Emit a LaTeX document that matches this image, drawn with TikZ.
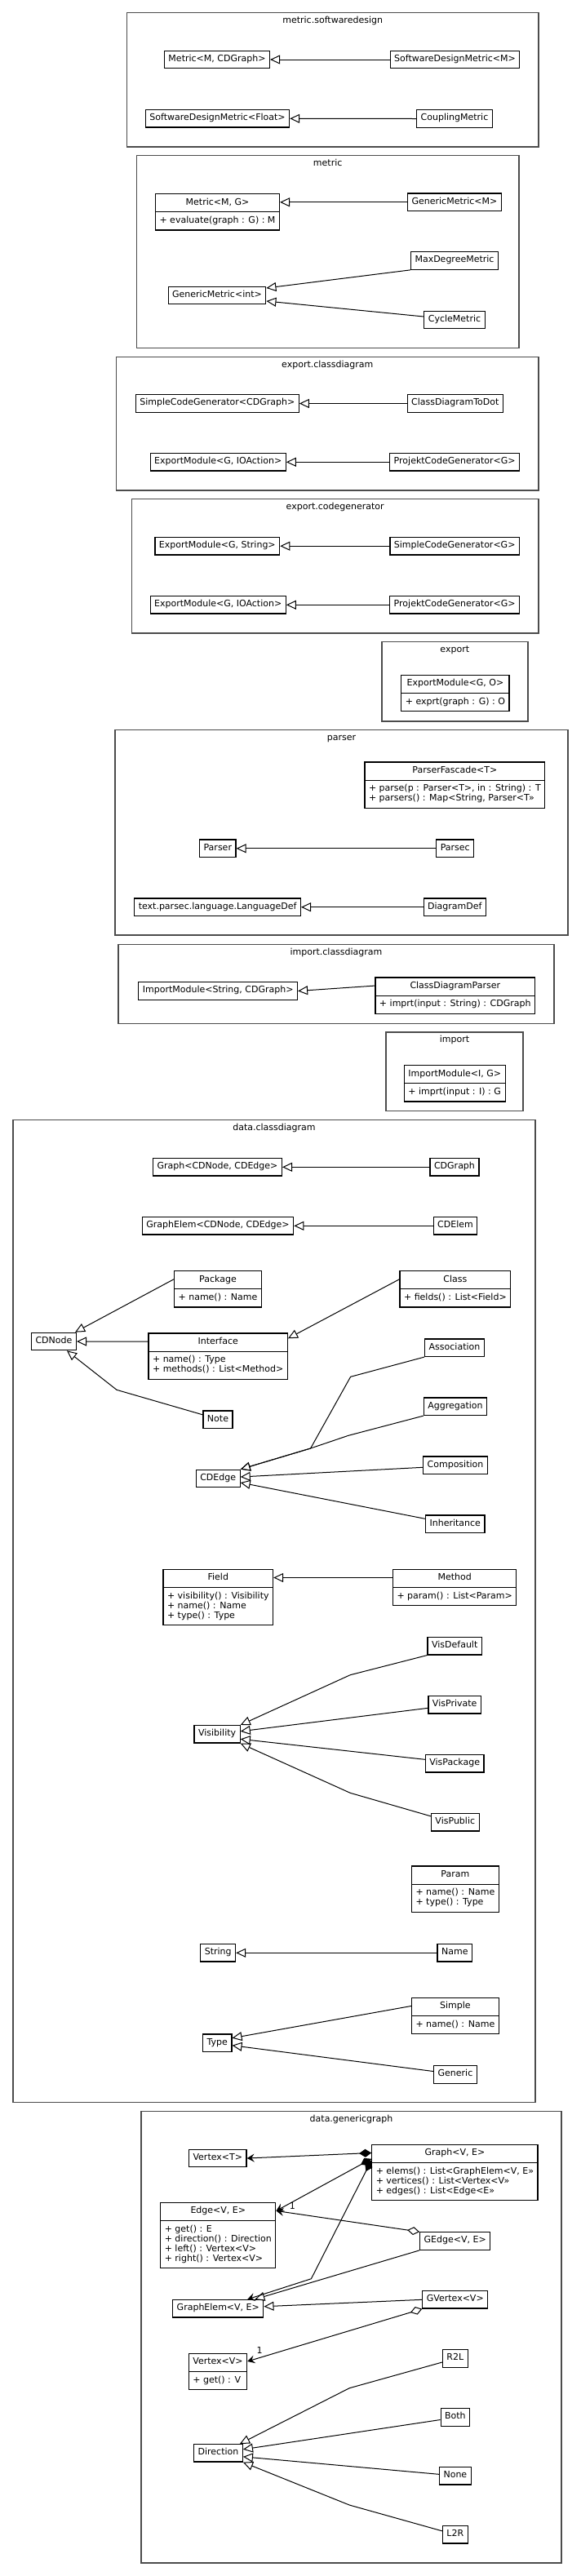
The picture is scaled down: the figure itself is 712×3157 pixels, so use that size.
\documentclass[tikz,border=0pt]{standalone}
\usepackage{fontspec}
\setmainfont{DejaVu Sans}
\usetikzlibrary{arrows.meta,shapes.multipart}

\begin{document}
\begin{tikzpicture}[x=1pt, y=-1pt,
		font=\fontsize{11}{12}\selectfont,
		pkg/.style={draw=black!70, line width=1.4pt},
		pkgname/.style={inner sep=0pt, text height=8.4pt, text depth=3.6pt},
		cls/.style={draw, line width=1.2pt, inner xsep=5pt, inner ysep=4.5pt, minimum height=21.5pt, text height=8.4pt, text depth=3.6pt},
		clsbox/.style={draw, line width=1.2pt, inner xsep=5pt, inner ysep=4.5pt, anchor=north, rectangle split, rectangle split parts=2, rectangle split part align={center,left}, align=left},
		inh/.style={line width=1pt, -{Triangle[open, length=12pt, width=11pt]}},
		comp/.style={line width=1pt, {Diamond[length=15pt, width=10pt]}-{Stealth[length=9pt, width=10pt, inset=3.5pt]}},
		aggr/.style={line width=1pt, {Diamond[open, length=15pt, width=10pt]}-{Stealth[length=9pt, width=10pt, inset=3.5pt]}}
	]
		\fill[white] (0,0) rectangle (712,3157);
		\useasboundingbox (0,0) rectangle (712,3157);

		\draw[pkg] (155.5,15.7) rectangle (660,180);
		\node[pkgname] (tSoftDesign) at (407.7,26.2) {metric.softwaredesign};
		\node[cls] (sdMetric) at (266,73) {Metric<M, CDGraph>};
		\node[cls] (sdMetricM) at (557.5,73) {SoftwareDesignMetric<M>};
		\node[cls] (sdMetricFloat) at (266.5,145.3) {SoftwareDesignMetric<Float>};
		\node[cls] (sdCoupling) at (557,145.5) {CouplingMetric};
		\draw[inh] (sdMetricM.west) -- (sdMetric.east);
		\draw[inh] (sdCoupling.west) -- (sdMetricFloat.east);

		\draw[pkg] (167.5,190.7) rectangle (636,426.7);
		\node[pkgname] (tMetric) at (401.7,201.2) {metric};
		\node[clsbox] (mMetric) at (266.5,237) {\strut Metric<M, G>\nodepart{two}\strut + evaluate(graph : G) : M\strut};
		\node[cls] (mGenericM) at (557,247.8) {GenericMetric<M>};
		\node[cls] (mMaxDegree) at (557,319.5) {MaxDegreeMetric};
		\node[cls] (mGenericInt) at (266,362) {GenericMetric<int>};
		\node[cls] (mCycle) at (557,392) {CycleMetric};
		\draw[inh] (mGenericM.west) -- (mMetric.east |- mGenericM.west);
		\draw[inh] (mMaxDegree.south west) -- ([yshift=9pt]mGenericInt.east);
		\draw[inh] ([yshift=4pt]mCycle.west) -- ([yshift=-7pt]mGenericInt.east);

		\draw[pkg] (142.5,437.3) rectangle (660,601);
		\node[pkgname] (tExportCD) at (401.3,447.8) {export.classdiagram};
		\node[cls] (ecSimple) at (266.3,494.5) {SimpleCodeGenerator<CDGraph>};
		\node[cls] (ecToDot) at (557.8,494.5) {ClassDiagramToDot};
		\node[cls] (ecExport) at (267.2,566.3) {ExportModule<G, IOAction>};
		\node[cls] (ecProjekt) at (557.2,566.3) {ProjektCodeGenerator<G>};
		\draw[inh] (ecToDot.west) -- (ecSimple.east);
		\draw[inh] (ecProjekt.west) -- (ecExport.east);

		\draw[pkg] (161.4,611.7) rectangle (660,776);
		\node[pkgname] (tExportCG) at (410.7,622.2) {export.codegenerator};
		\node[cls] (cgExport) at (266.3,669.2) {ExportModule<G, String>};
		\node[cls] (cgSimple) at (557.2,669.2) {SimpleCodeGenerator<G>};
		\node[cls] (cgExportIO) at (267.2,741.3) {ExportModule<G, IOAction>};
		\node[cls] (cgProjekt) at (557.2,741.3) {ProjektCodeGenerator<G>};
		\draw[inh] (cgSimple.west) -- (cgExport.east);
		\draw[inh] (cgProjekt.west) -- (cgExportIO.east);

		\draw[pkg] (467.8,786.7) rectangle (646.8,884);
		\node[pkgname] (tExport) at (557.3,797.2) {export};
		\node[clsbox] (exModule) at (557.9,826.7) {\strut ExportModule<G, O>\nodepart{two}\strut + exprt(graph : G) : O\strut};

		\draw[pkg] (141,894.7) rectangle (696,1146);
		\node[pkgname] (tParser) at (418.5,905.2) {parser};
		\node[clsbox] (pFascade) at (557.4,933.3) {\strut ParserFascade<T>\nodepart{two}\strut + parse(p : Parser<T>, in : String) : T\\+ parsers() : Map<String, Parser<T>>\strut};
		\node[cls] (pParser) at (266.8,1039.8) {Parser};
		\node[cls] (pParsec) at (557.8,1039.8) {Parsec};
		\node[cls] (pLangDef) at (266.6,1111.7) {text.parsec.language.LanguageDef};
		\node[cls] (pDiagramDef) at (557.3,1111.7) {DiagramDef};
		\draw[inh] (pParsec.west) -- (pParser.east);
		\draw[inh] (pDiagramDef.west) -- (pLangDef.east);

		\draw[pkg] (145,1157.3) rectangle (679,1254.3);
		\node[pkgname] (tImportCD) at (412,1167.8) {import.classdiagram};
		\node[cls] (icModule) at (267.2,1214.5) {ImportModule<String, CDGraph>};
		\node[clsbox] (icParser) at (557.8,1197.3) {\strut ClassDiagramParser\nodepart{two}\strut + imprt(input : String) : CDGraph\strut};
		\draw[inh] ([yshift=-10.75pt]icParser.north west) -- (icModule.east);

		\draw[pkg] (473,1265) rectangle (641,1361.7);
		\node[pkgname] (tImport) at (557,1275.5) {import};
		\node[clsbox] (imModule) at (557.3,1305) {\strut ImportModule<I, G>\nodepart{two}\strut + imprt(input : I) : G\strut};

		\draw[pkg] (16,1372.7) rectangle (656,2576.7);
		\node[pkgname] (tDataCD) at (336,1383.2) {data.classdiagram};
		\node[cls] (dGraph) at (266.5,1430.3) {Graph<CDNode, CDEdge>};
		\node[cls] (dCDGraph) at (557,1430.3) {CDGraph};
		\node[cls] (dGraphElem) at (267,1502.3) {GraphElem<CDNode, CDEdge>};
		\node[cls] (dCDElem) at (558,1502.3) {CDElem};
		\node[clsbox] (dPackage) at (267,1557) {\strut Package\nodepart{two}\strut + name() : Name\strut};
		\node[clsbox] (dClass) at (557.9,1557) {\strut Class\nodepart{two}\strut + fields() : List<Field>\strut};
		\node[cls] (dCDNode) at (66,1644) {CDNode};
		\node[clsbox] (dInterface) at (267.2,1633.3) {\strut Interface\nodepart{two}\strut + name() : Type\\+ methods() : List<Method>\strut};
		\node[cls] (dAssoc) at (557,1651.7) {Association};
		\node[cls] (dNote) at (267,1739.8) {Note};
		\node[cls] (dAggr) at (558,1723.8) {Aggregation};
		\node[cls] (dCDEdge) at (267.2,1812) {CDEdge};
		\node[cls] (dComp) at (558,1795.8) {Composition};
		\node[cls] (dInher) at (557.8,1867.8) {Inheritance};
		\node[clsbox] (dField) at (267.3,1922.7) {\strut Field\nodepart{two}\strut + visibility() : Visibility\\+ name() : Name\\+ type() : Type\strut};
		\node[clsbox] (dMethod) at (557.2,1922.7) {\strut Method\nodepart{two}\strut + param() : List<Param>\strut};
		\node[cls] (dVisDefault) at (557.2,2017.2) {VisDefault};
		\node[cls] (dVisPrivate) at (557.2,2089.3) {VisPrivate};
		\node[cls] (dVisibility) at (266.1,2125.3) {Visibility};
		\node[cls] (dVisPackage) at (557.2,2161.3) {VisPackage};
		\node[cls] (dVisPublic) at (557.8,2233.3) {VisPublic};
		\node[clsbox] (dParam) at (557.9,2286.3) {\strut Param\nodepart{two}\strut + name() : Name\\+ type() : Type\strut};
		\node[cls] (dString) at (267.2,2393.3) {String};
		\node[cls] (dName) at (557.3,2393.3) {Name};
		\node[clsbox] (dSimple) at (557.9,2447.7) {\strut Simple\nodepart{two}\strut + name() : Name\strut};
		\node[cls] (dType) at (266.3,2503.7) {Type};
		\node[cls] (dGeneric) at (558,2542.5) {Generic};
		\draw[inh] (dCDGraph.west) -- (dGraph.east);
		\draw[inh] (dCDElem.west) -- (dGraphElem.east);
		\draw[inh] ([yshift=-10.75pt]dPackage.north west) -- ([xshift=-2pt]dCDNode.north east);
		\draw[inh] ([yshift=-10.75pt]dInterface.north west) -- (dCDNode.east);
		\draw[inh] ([yshift=-10.75pt]dClass.north west) -- ([yshift=-7pt]dInterface.north east);
		\draw[inh] ([yshift=6pt]dNote.west) -- (143,1703.3) -- ([xshift=16pt]dCDNode.south);
		\draw[inh] (dAssoc.south west) -- (429.6,1687.3) -- (380.6,1775) -- (dCDEdge.north east);
		\draw[inh] (dAggr.south west) -- (426.9,1759.3) -- (380.6,1775) -- (dCDEdge.north east);
		\draw[inh] ([yshift=-2.5pt]dComp.west) -- ([yshift=2pt]dCDEdge.east);
		\draw[inh] ([yshift=6.5pt]dInher.west) -- ([yshift=-5pt]dCDEdge.east);
		\draw[inh] ([yshift=-10.75pt]dMethod.north west) -- ([yshift=-10.75pt]dField.north east);
		\draw[inh] (dVisDefault.south west) -- (429.2,2052.7) -- (dVisibility.north east);
		\draw[inh] ([yshift=-4pt]dVisPrivate.west) -- ([yshift=3.5pt]dVisibility.east);
		\draw[inh] ([yshift=5pt]dVisPackage.west) -- ([yshift=-6pt]dVisibility.east);
		\draw[inh] ([yshift=7.5pt]dVisPublic.west) -- (429.2,2197.3) -- (dVisibility.south east);
		\draw[inh] (dName.west) -- (dString.east);
		\draw[inh] ([yshift=-10.75pt]dSimple.north west) -- ([yshift=6pt]dType.east);
		\draw[inh] ([yshift=4pt]dGeneric.west) -- ([yshift=-3pt]dType.east);

		\draw[pkg] (173,2587.3) rectangle (688,3141);
		\node[pkgname] (tDataGG) at (430.5,2597.8) {data.genericgraph};
		\node[cls] (gVertexT) at (266.8,2645) {Vertex<T>};
		\node[clsbox] (gGraph) at (557.4,2627.7) {\strut Graph<V, E>\nodepart{two}\strut + elems() : List<GraphElem<V, E>>\\+ vertices() : List<Vertex<V>>\\+ edges() : List<Edge<E>>\strut};
		\node[clsbox] (gEdge) at (267.3,2698.7) {\strut Edge<V, E>\nodepart{two}\strut + get() : E\\+ direction() : Direction\\+ left() : Vertex<V>\\+ right() : Vertex<V>\strut};
		\node[cls] (gGEdge) at (557.7,2746.5) {GEdge<V, E>};
		\node[cls] (gGraphElem) at (267.3,2829.2) {GraphElem<V, E>};
		\node[cls] (gGVertex) at (557.8,2818.3) {GVertex<V>};
		\node[clsbox] (gVertexV) at (267,2883.7) {\strut Vertex<V>\nodepart{two}\strut + get() : V\strut};
		\node[cls] (gR2L) at (557.8,2890.5) {R2L};
		\node[cls] (gBoth) at (557.9,2962.5) {Both};
		\node[cls] (gDirection) at (267.5,3006.3) {Direction};
		\node[cls] (gNone) at (557.9,3034.3) {None};
		\node[cls] (gL2R) at (557.8,3106.3) {L2R};
		\draw[comp] ([yshift=-10.75pt]gGraph.north west) -- (gVertexT.east);
		\draw[comp] ([yshift=-18pt]gGraph.north west) -- ([yshift=-10.75pt]gEdge.north east);
		\draw[comp] ([yshift=-20pt]gGraph.north west) -- (381.4,2792.7) -- ([xshift=36pt]gGraphElem.north);
		\draw[aggr] (gGEdge.north west) -- ([yshift=-10.75pt]gEdge.north east);
		\node (mulEdge) at (358.3,2703.3) {1};
		\draw[inh] (gGEdge.south west) -- ([xshift=45pt]gGraphElem.north);
		\draw[inh] (gGVertex.west) -- ([yshift=2.5pt]gGraphElem.east);
		\draw[aggr] (gGVertex.south west) -- ([yshift=-10.25pt]gVertexV.north east);
		\node (mulVertex) at (318,2880) {1};
		\draw[inh] ([yshift=-4.5pt]gR2L.west) -- (428.2,2926.7) -- ([xshift=-4pt]gDirection.north east);
		\draw[inh] ([yshift=-3pt]gBoth.west) -- ([yshift=4.5pt]gDirection.east);
		\draw[inh] ([yshift=2pt]gNone.west) -- ([yshift=-4.5pt]gDirection.east);
		\draw[inh] ([yshift=4.5pt]gL2R.west) -- (428.2,3070) -- (gDirection.south east);
	\end{tikzpicture}
\end{document}
